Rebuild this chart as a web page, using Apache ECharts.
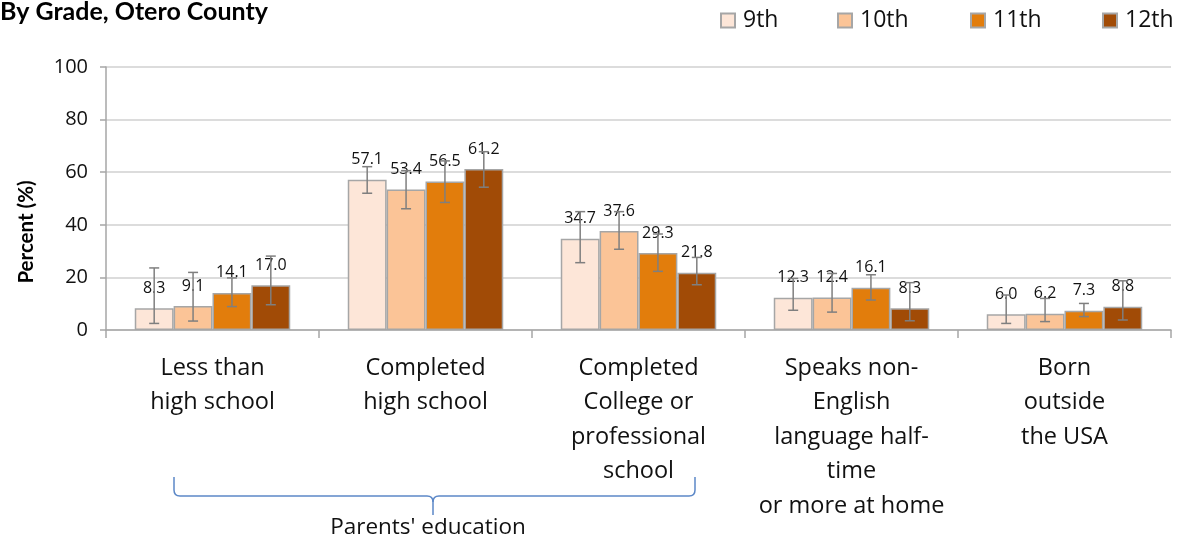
<!DOCTYPE html>
<html>
<head>
<meta charset="utf-8">
<script src="https://cdn.jsdelivr.net/npm/echarts@6/dist/echarts.min.js"></script>
<style>
html,body{margin:0;padding:0;background:#fff;}
#chart{width:1179px;height:539px;}
</style>
</head>
<body>
<div id="chart"></div>
<script>
const categories = [
  "Less than\nhigh school",
  "Completed\nhigh school",
  "Completed\nCollege or\nprofessional\nschool",
  "Speaks non-\nEnglish\nlanguage half-\ntime\nor more at home",
  "Born\noutside\nthe USA"
];
const grades = ["9th", "10th", "11th", "12th"];
const values9  = [8.3, 57.1, 34.7, 12.3, 6.0];
const values10 = [9.1, 53.4, 37.6, 12.4, 6.2];
const values11 = [14.1, 56.5, 29.3, 16.1, 7.3];
const values12 = [17.0, 61.2, 21.8, 8.3, 8.8];
// error bar [low, high] per category
const err9  = [[2.5, 23.6], [52.0, 62.1], [25.6, 45.0], [7.5, 19.6], [2.5, 13.3]];
const err10 = [[3.4, 21.9], [46.1, 60.6], [30.7, 45.0], [6.8, 21.5], [3.2, 12.0]];
const err11 = [[8.9, 19.8], [48.5, 64.3], [22.3, 36.5], [11.4, 21.0], [5.1, 10.1]];
const err12 = [[9.6, 28.1], [54.3, 67.8], [17.2, 27.6], [3.5, 18.0], [3.8, 18.7]];
const yTicks = [0, 20, 40, 60, 80, 100];
const bracketLabel = "Parents' education";
const titleText = "By Grade, Otero County";
const yAxisTitle = "Percent (%)";

const colors = ["#FDE6D8", "#FBC497", "#E27D0C", "#A14B06"];
const allValues = [values9, values10, values11, values12];
const allErr = [err9, err10, err11, err12];
const GAP = 0.27;
const FONT = "'Open Sans', 'Noto Sans', sans-serif";
const BFONT = "Lato, 'Open Sans', sans-serif";

const errData = [];
allErr.forEach((arr, gi) => arr.forEach((e, ci) => errData.push([ci, gi, e[0], e[1]])));

const series = grades.map((g, gi) => ({
  name: g,
  type: 'bar',
  data: allValues[gi],
  barGap: '0%',
  barCategoryGap: (GAP * 100) + '%',
  itemStyle: { color: colors[gi], borderColor: '#A6A6A6', borderWidth: 1.5 },
  label: {
    show: true, position: 'top', distance: 12,
    fontFamily: FONT, fontSize: 16, color: '#111',
    formatter: p => p.value.toFixed(1)
  },
  z: 2
}));

series.push({
  type: 'custom',
  data: errData,
  encode: { x: 0, y: [2, 3] },
  z: 5,
  silent: true,
  renderItem: function (params, api) {
    const ci = api.value(0), gi = api.value(1);
    const base = api.coord([ci, 0]);
    const band = api.size([1, 0])[0];
    const bw = band * (1 - GAP) / 4;
    const x = base[0] + (gi - 1.5) * bw;
    const yl = api.coord([ci, api.value(2)])[1];
    const yh = api.coord([ci, api.value(3)])[1];
    const cap = 5;
    const st = { stroke: '#7F7F7F', lineWidth: 1.5 };
    return {
      type: 'group',
      children: [
        { type: 'line', shape: { x1: x, y1: yl, x2: x, y2: yh }, style: st },
        { type: 'line', shape: { x1: x - cap, y1: yl, x2: x + cap, y2: yl }, style: st },
        { type: 'line', shape: { x1: x - cap, y1: yh, x2: x + cap, y2: yh }, style: st }
      ]
    };
  }
});

const legendLefts = [720, 837, 970, 1102];
const legends = grades.map((g, i) => ({
  data: [g], left: legendLefts[i], top: 9, padding: 0,
  itemWidth: 14, itemHeight: 14, icon: 'rect',
  textStyle: { fontFamily: FONT, fontSize: 23, color: '#111', padding: [0, 0, 0, 3] },
  selectedMode: false
}));

const BR = '#5B87C7';
const brStyle = { stroke: BR, lineWidth: 1.5, fill: null };
const bracket = [
  { type: 'line', shape: { x1: 174, y1: 477, x2: 174, y2: 490 }, style: brStyle },
  { type: 'bezierCurve', shape: { x1: 174, y1: 490, cpx1: 174, cpy1: 496, x2: 180, y2: 496 }, style: brStyle },
  { type: 'line', shape: { x1: 180, y1: 496, x2: 427, y2: 496 }, style: brStyle },
  { type: 'bezierCurve', shape: { x1: 427, y1: 496, cpx1: 433, cpy1: 496, x2: 433, y2: 502 }, style: brStyle },
  { type: 'bezierCurve', shape: { x1: 439, y1: 496, cpx1: 433, cpy1: 496, x2: 433, y2: 502 }, style: brStyle },
  { type: 'line', shape: { x1: 433, y1: 502, x2: 433, y2: 515 }, style: brStyle },
  { type: 'line', shape: { x1: 439, y1: 496, x2: 689, y2: 496 }, style: brStyle },
  { type: 'bezierCurve', shape: { x1: 689, y1: 496, cpx1: 695, cpy1: 496, x2: 695, y2: 490 }, style: brStyle },
  { type: 'line', shape: { x1: 695, y1: 490, x2: 695, y2: 477 }, style: brStyle }
];

const chart = echarts.init(document.getElementById('chart'));
chart.setOption({
  animation: false,
  backgroundColor: '#fff',
  grid: { left: 106, right: 8, top: 67, bottom: 209, containLabel: false },
  legend: legends,
  xAxis: {
    type: 'category',
    data: categories,
    axisLine: { lineStyle: { color: '#A6A6A6', width: 1.5 } },
    axisTick: { show: true, length: 8, lineStyle: { color: '#A6A6A6', width: 1.5 } },
    axisLabel: { interval: 0, fontFamily: FONT, fontSize: 23.5, color: '#111', lineHeight: 34.5, margin: 21 }
  },
  yAxis: {
    type: 'value', min: yTicks[0], max: yTicks[yTicks.length - 1], interval: 20,
    axisLine: { show: true, lineStyle: { color: '#A6A6A6', width: 1.5 } },
    axisTick: { show: true, length: 6, lineStyle: { color: '#A6A6A6', width: 1.5 } },
    splitLine: { lineStyle: { color: '#D0D0D0', width: 1.5 } },
    axisLabel: { fontFamily: FONT, fontSize: 20, color: '#111', margin: 18 }
  },
  graphic: [
    { type: 'text', x: 268, y: 12,
      style: { text: titleText, fontFamily: BFONT, fontWeight: 'bold', fontSize: 25, fill: '#000',
               textAlign: 'right', textVerticalAlign: 'middle' } },
    { type: 'text', x: 26, y: 232, rotation: Math.PI / 2,
      style: { text: yAxisTitle, fontFamily: BFONT, fontWeight: 'bold', fontSize: 20.5, fill: '#000',
               textAlign: 'center', textVerticalAlign: 'middle' } },
    { type: 'group', children: bracket },
    { type: 'text', x: 428, y: 528,
      style: { text: bracketLabel, fontFamily: FONT, fontSize: 22.5, fill: '#111',
               textAlign: 'center', textVerticalAlign: 'middle' } }
  ],
  series: series
});
</script>
</body>
</html>
